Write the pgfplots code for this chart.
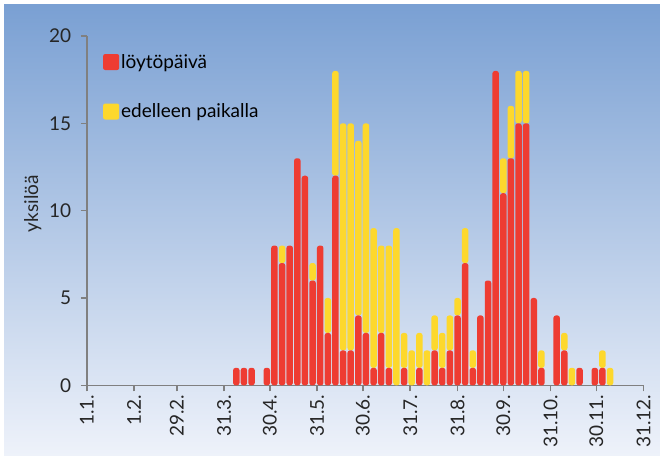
\documentclass[border=0pt]{standalone}
\usepackage{pgfplots}
\pgfplotsset{compat=1.18}
\usepackage{fontspec}
\setmainfont{Lato}
\definecolor{barred}{RGB}{238,60,50}
\definecolor{baryel}{RGB}{253,216,45}
\definecolor{bgtop}{RGB}{122,160,211}
\definecolor{bgbot}{RGB}{238,242,250}
\definecolor{axgray}{RGB}{128,128,128}
\pgfplotstableread{
x red yel
99 1 0
104 1 0
109 1 0
119 1 0
124 8 0
129 7 1
134 8 0
139 13 0
144 12 0
149 6 1
154 8 0
159 3 2
164 12 6
169 2 13
174 2 13
179 4 10
184 3 12
189 1 8
194 3 5
199 1 7
204 0 9
209 1 2
214 0 2
219 1 2
224 0 2
229 2 2
234 1 2
239 2 2
244 4 1
249 7 2
254 1 1
259 4 0
264 6 0
269 18 0
274 11 2
279 13 3
284 15 3
289 15 3
294 5 0
299 1 1
309 4 0
314 2 1
319 0 1
324 1 0
334 1 0
339 1 1
344 0 1
}\datatable
\begin{document}
\begin{tikzpicture}
\useasboundingbox (0,0) rectangle (660pt,455pt);
\fill[white] (0,0) rectangle (660pt,455pt);
\shade[top color=bgtop, bottom color=bgbot] (4pt,0pt) rectangle (660pt,450pt);
\begin{axis}[
  at={(86.8pt,69.7pt)}, anchor=south west,
  scale only axis, width=556.8pt, height=349.3pt,
  xmin=1, xmax=366, ymin=0, ymax=20,
  ybar stacked, bar width=6.5pt,
  axis x line=bottom, axis y line=left,
  axis line style={-, axgray, line width=1.5pt},
  every tick/.style={axgray, line width=1.5pt},
  tick align=outside, major tick length=6pt,
  xtick={1,32,60,91,121,152,182,213,244,274,305,335,366},
  xticklabels={1.1.,1.2.,29.2.,31.3.,30.4.,31.5.,30.6.,31.7.,31.8.,30.9.,31.10.,30.11.,31.12.},
  ytick={0,5,10,15,20},
  minor tick num=0,
  /pgf/number format/assume math mode=true,
  tick label style={font=\fontsize{19}{22}\selectfont, black!85},
  xticklabel style={rotate=90, anchor=east},
  yticklabel style={xshift=-6pt},
  ylabel={yksilöä},
  every axis y label/.style={at={(axis description cs:-0.097,0.52)}, rotate=90, anchor=center, font=\fontsize{19}{22}\selectfont, black!85},
  legend style={at={(axis description cs:0.029,0.954)}, anchor=north west, draw=none, fill=none,
    font=\fontsize{19}{22}\selectfont, row sep=30pt, inner sep=0pt},
  legend cell align=left,
  legend image code/.code={\fill[#1, draw=none, rounded corners=2pt] (0pt,-8pt) rectangle (16pt,8pt);},
  clip=false,
]
\addplot[fill=barred, draw=none, rounded corners=2.5pt] table[x=x, y=red] {\datatable};
\addplot[fill=baryel, draw=none, rounded corners=2.5pt] table[x=x, y=yel] {\datatable};
\legend{löytöpäivä, edelleen paikalla}
\end{axis}
\end{tikzpicture}
\end{document}
